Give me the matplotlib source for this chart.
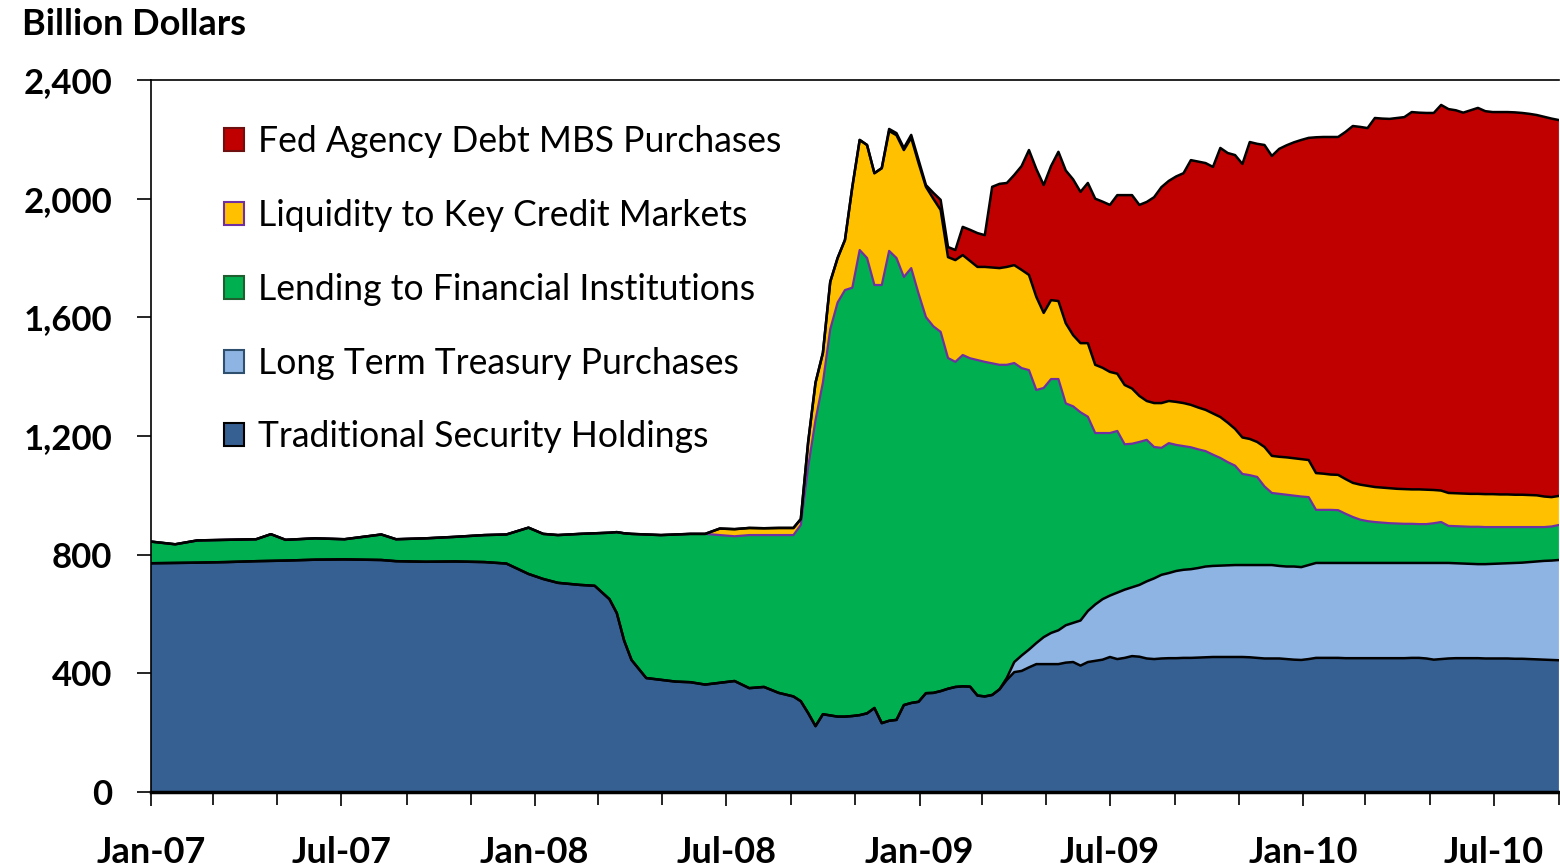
import matplotlib

matplotlib.use("Agg")
import matplotlib.dates as mdates
import matplotlib.patches as mpatches
import matplotlib.pyplot as plt
import matplotlib.ticker as mticker
import numpy as np
import pandas as pd

# ── Data (billion dollars) ────────────────────────────────────────────────────

# irregular points up to Aug-2008, then weekly (Wednesdays) to Sep-2010
EARLY_DATES = [
    "2007-01-01", "2007-01-24", "2007-02-14", "2007-03-14", "2007-04-11",
    "2007-04-25", "2007-05-09", "2007-06-06", "2007-07-04", "2007-08-08",
    "2007-08-22", "2007-09-19", "2007-10-17", "2007-11-14", "2007-12-05",
    "2007-12-26", "2008-01-09", "2008-01-23", "2008-02-13", "2008-02-27",
    "2008-03-12", "2008-03-19", "2008-03-26", "2008-04-02", "2008-04-16",
    "2008-04-30", "2008-05-14", "2008-05-28", "2008-06-11", "2008-06-25",
    "2008-07-09", "2008-07-23", "2008-08-06", "2008-08-20",
]
WEEKLY_START = "2008-09-03"
N_WEEKS = 105

TRADITIONAL = [
    771, 772, 773, 775, 778, 779, 780, 783, 784, 782, 778, 776, 777, 775, 770,
    735, 718, 705, 698, 695, 650, 603, 510, 445, 384, 378, 372, 370, 362, 368,
    374, 350, 354, 334,
    322, 306, 266, 222, 262, 258, 254, 254, 256, 259,
    265, 283, 232, 240, 243, 293, 300, 304, 333, 334,
    340, 348, 354, 356, 355, 325, 322, 327, 346, 378,
    404, 408, 420, 431, 431, 431, 431, 436, 438, 426,
    438, 442, 446, 455, 448, 452, 458, 456, 450, 448,
    450, 451, 451, 452, 452, 453, 454, 455, 455, 455,
    455, 455, 454, 452, 450, 450, 450, 448, 446, 445,
    448, 452, 452, 452, 452, 451, 451, 451, 451, 451,
    451, 451, 451, 451, 452, 452, 450, 446, 448, 450,
    451, 451, 451, 451, 450, 450, 450, 450, 449, 449,
    448, 447, 446, 445, 444,
]
LONG_TERM_TREASURY = [0] * 34 + [0] * 29 + [
    7, 34, 52, 60, 71, 91, 105, 114, 126, 132,
    152, 172, 190, 204, 207, 224, 230, 232, 242, 260,
    272, 282, 287, 294, 297, 299, 302, 306, 307, 308,
    309, 310, 310, 311, 313, 315, 315, 312, 312, 314,
    313, 317, 320, 320, 320, 320, 321, 321, 321, 321,
    321, 321, 321, 321, 321, 320, 320, 322, 326, 324,
    322, 320, 319, 318, 317, 318, 319, 320, 321, 323,
    324, 327, 330, 333, 335, 338,
]
LENDING = [
    73, 63, 75, 75, 74, 90, 70, 72, 68, 86, 74, 79, 83, 91, 98,
    156, 152, 161, 172, 177, 224, 273, 362, 425, 484, 488, 496, 500, 508, 498,
    488, 516, 512, 532,
    544, 594, 830, 1032, 1118, 1302, 1396, 1438, 1444, 1568,
    1535, 1426, 1477, 1584, 1557, 1443, 1466, 1376, 1268, 1236,
    1211, 1115, 1096, 1117, 1107, 1131, 1128, 1118, 1094, 1055,
    1008, 969, 942, 853, 840, 856, 847, 748, 730, 702,
    655, 578, 560, 548, 545, 490, 484, 482, 477, 443,
    428, 438, 425, 417, 411, 400, 389, 375, 363, 348,
    335, 307, 303, 297, 265, 243, 243, 242, 239, 238,
    229, 179, 179, 179, 178, 166, 155, 146, 141, 138,
    136, 134, 133, 132, 132, 131, 131, 134, 138, 125,
    125, 125, 125, 126, 125, 124, 123, 122, 121, 120,
    118, 116, 114, 115, 118,
]
LIQUIDITY = [0] * 29 + [22, 24, 24, 23, 24] + [
    24, 20, 84, 126, 100, 160, 150, 169, 340, 371,
    381, 377, 394, 404, 414, 428, 439, 440, 439, 430,
    411, 340, 343, 337, 328, 314, 320, 323, 326, 330,
    330, 331, 321, 314, 253, 266, 263, 270, 240, 233,
    248, 230, 220, 206, 193, 200, 186, 155, 131, 148,
    151, 142, 145, 145, 143, 141, 139, 139, 138, 133,
    124, 123, 122, 118, 133, 125, 125, 126, 126, 126,
    125, 124, 122, 119, 119, 117, 115, 118, 119, 118,
    118, 118, 117, 117, 116, 117, 116, 112, 106, 111,
    111, 111, 111, 111, 111, 111, 110, 110, 109, 109,
    108, 107, 103, 99, 98,
]
MBS = [0] * 34 + [0] * 13 + [
    7, 7, 7, 10, 10, 6, 20, 34, 34, 34,
    95, 105, 114, 107, 272, 284, 283, 304, 350, 421,
    431, 431, 452, 503, 515, 525, 510, 540, 560, 560,
    563, 602, 640, 652, 644, 671, 694, 728, 742, 760,
    775, 825, 829, 832, 831, 907, 909, 923, 922, 1001,
    1005, 1018, 1011, 1038, 1052, 1065, 1076, 1086, 1132, 1135,
    1138, 1139, 1170, 1203, 1206, 1206, 1244, 1244, 1245, 1250,
    1254, 1272, 1270, 1270, 1271, 1300, 1294, 1291, 1284, 1293,
    1301, 1291, 1288, 1289, 1289, 1289, 1287, 1285, 1282, 1280,
    1276, 1267,
]

LABELS = [
    "Traditional Security Holdings",
    "Long Term Treasury Purchases",
    "Lending to Financial Institutions",
    "Liquidity to Key Credit Markets",
    "Fed Agency Debt MBS Purchases",
]

# ── Style ─────────────────────────────────────────────────────────────────────

DARK_BLUE = "#376092"
LIGHT_BLUE = "#8EB4E3"
GREEN = "#00B050"
YELLOW = "#FFC000"
RED = "#C00000"
PURPLE = "#7030A0"
COLORS = [DARK_BLUE, LIGHT_BLUE, GREEN, YELLOW, RED]
EDGES = ["#000000", "#2F4F6F", "#1F5F2F", PURPLE, "#6F1010"]

plt.rcParams["font.family"] = ["Lato", "DejaVu Sans"]

dates = pd.to_datetime(EARLY_DATES).append(
    pd.date_range(WEEKLY_START, periods=N_WEEKS, freq="7D")
)
series = np.array([TRADITIONAL, LONG_TERM_TREASURY, LENDING, LIQUIDITY, MBS], float)
tops = np.cumsum(series, axis=0)

fig = plt.figure(figsize=(15.6, 8.68), dpi=100)
ax = fig.add_axes([0.0968, 0.0876, 0.9025, 0.8202])

ax.stackplot(dates, *series, colors=COLORS, linewidth=0)
ax.plot(dates, tops[2], color=PURPLE, linewidth=1.6, zorder=3)
for k in (0, 1, 3, 4):
    ax.plot(dates, tops[k], color="black", linewidth=1.8, zorder=4)

ax.set_xlim(pd.Timestamp("2007-01-01"), pd.Timestamp("2010-09-01"))
ax.set_ylim(0, 2400)
ax.yaxis.set_major_locator(mticker.MultipleLocator(400))
ax.yaxis.set_major_formatter(mticker.FuncFormatter(lambda v, _: f"{v:,.0f}"))
ax.xaxis.set_major_locator(mdates.MonthLocator(bymonth=[1, 7]))
ax.xaxis.set_minor_locator(mdates.MonthLocator(bymonth=[3, 5, 9, 11]))
ax.xaxis.set_major_formatter(mdates.DateFormatter("%b-%y"))

ax.tick_params(axis="y", direction="out", length=10, width=1.2, pad=18,
               labelsize=25)
ax.tick_params(axis="x", which="major", direction="out", length=10, width=1.2,
               pad=22, labelsize=26)
ax.tick_params(axis="x", which="minor", direction="out", length=9, width=1.2)
for lab in ax.get_xticklabels() + ax.get_yticklabels():
    lab.set_fontweight("bold")

ax.spines["right"].set_visible(False)
ax.spines["left"].set_linewidth(1.2)
ax.spines["top"].set_linewidth(1.2)
ax.spines["bottom"].set_linewidth(2.5)

fig.text(0.014, 0.972, "Billion Dollars", fontsize=26, fontweight="bold",
         ha="left", va="center")

handles = [
    mpatches.Patch(facecolor=c, edgecolor=e, linewidth=1.5, label=l)
    for c, e, l in zip(COLORS, EDGES, LABELS)
][::-1]
ax.legend(
    handles=handles,
    loc="upper left",
    bbox_to_anchor=(0.052, 0.937),
    frameon=False,
    fontsize=25.6,
    handlelength=0.56,
    handleheight=0.62,
    handletextpad=0.38,
    labelspacing=1.15,
    borderpad=0,
    borderaxespad=0,
)

fig.savefig("out.png", dpi=100)
